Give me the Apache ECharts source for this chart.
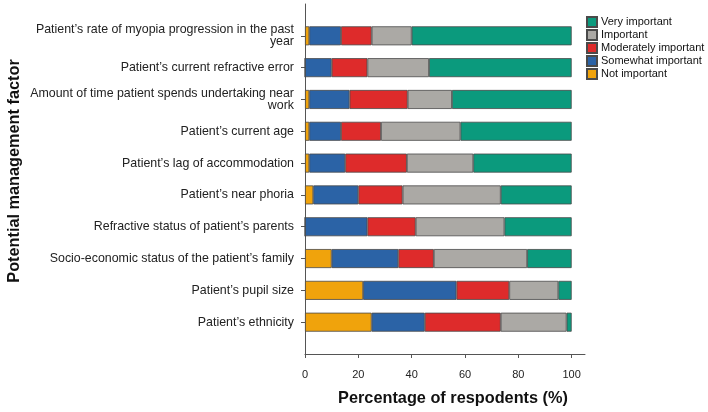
<!DOCTYPE html>
<html><head><meta charset="utf-8">
<script src="https://cdn.jsdelivr.net/npm/echarts@6/dist/echarts.min.js"></script>
<style>html,body{margin:0;padding:0;background:#fff}#c{width:708px;height:412px}</style>
</head><body><div id="c"></div>
<script>
// Categories top to bottom (blank slots at the axis ends)
var categories = ['',
  'Patient\u2019s rate of myopia progression in the past\nyear',
  'Patient\u2019s current refractive error',
  'Amount of time patient spends undertaking near\nwork',
  'Patient\u2019s current age',
  'Patient\u2019s lag of accommodation',
  'Patient\u2019s near phoria',
  'Refractive status of patient\u2019s parents',
  'Socio-economic status of the patient\u2019s family',
  'Patient\u2019s pupil size',
  'Patient\u2019s ethnicity',
  ''];
var notImportant       = [null, 1.6, 0,    1.6,  1.6,  1.6,  3.1,  0,    10,   21.8, 25,   null];
var somewhatImportant  = [null, 11.9, 10,  15.1, 11.9, 13.5, 16.9, 23.4, 25,   35,   19.9, null];
var moderatelyImportant= [null, 11.5, 13.4, 21.8, 15, 23.1, 16.6, 18.1, 13.3, 19.8, 28.5, null];
var important          = [null, 15,  23.1, 16.6, 29.8, 24.9, 36.8, 33.3, 35,   18.4, 24.7, null];
var veryImportant      = [null, 60,  53.5, 44.9, 41.7, 36.9, 26.6, 25.2, 16.7, 5,    1.9,  null];
var xTicks = [0, 20, 40, 60, 80, 100];

var seriesNames = ['Not important','Somewhat important','Moderately important','Important','Very important'];
var seriesData = [notImportant, somewhatImportant, moderatelyImportant, important, veryImportant];
var colors = ['#f0a30c','#2b63a6','#de2b2b','#aba9a5','#0b9a7d'];

var chart = echarts.init(document.getElementById('c'), null, {renderer:'canvas'});
var font = 'Liberation Sans, Arial, sans-serif';
chart.setOption({
  animation: false,
  textStyle: {fontFamily: font},
  grid: {left: 305, right: 123, top: 4, bottom: 58, containLabel: false},
  legend: {
    data: seriesNames.slice().reverse(),
    orient: 'vertical', left: 586, top: 16, padding: 0,
    itemWidth: 10, itemHeight: 10, itemGap: 1,
    icon: 'rect',
    textStyle: {fontSize: 11, color: '#111', fontFamily: font, padding: [0,0,0,-1]}
  },
  xAxis: {
    type: 'value', min: 0, max: 105,
    axisLine: {show: true, lineStyle: {color: '#555', width: 1}},
    axisTick: {show: true, length: 4, lineStyle: {color: '#555'}, customValues: xTicks},
    splitLine: {show: false},
    axisLabel: {fontSize: 11, color: '#222', margin: 15, customValues: xTicks},
    name: 'Percentage of respodents (%)', nameLocation: 'middle', nameGap: 37,
    nameTextStyle: {fontSize: 16.3, fontWeight: 'bold', color: '#111', padding: [0,0,0,16]}
  },
  yAxis: {
    type: 'category', data: categories, inverse: true, boundaryGap: false,
    axisLine: {show: true, lineStyle: {color: '#555', width: 1}},
    axisTick: {show: true, length: 4, lineStyle: {color: '#555'}, interval: function(i){ return i > 0 && i < categories.length - 1; }},
    axisLabel: {fontSize: 12.4, color: '#222', margin: 11, align: 'right', lineHeight: 11.5, padding: [4,0,0,0], interval: 0},
    name: 'Potential management factor', nameLocation: 'middle', nameGap: 282,
    nameTextStyle: {fontSize: 16.3, fontWeight: 'bold', color: '#111', padding: [0,0,0,16]}
  },
  series: seriesNames.map(function(n, i){
    return {
      name: n, type: 'bar', stack: 'total', barWidth: 19,
      data: seriesData[i],
      itemStyle: {color: colors[i], borderColor: '#4a4a4a', borderWidth: 0.8}
    };
  })
});
</script></body></html>
